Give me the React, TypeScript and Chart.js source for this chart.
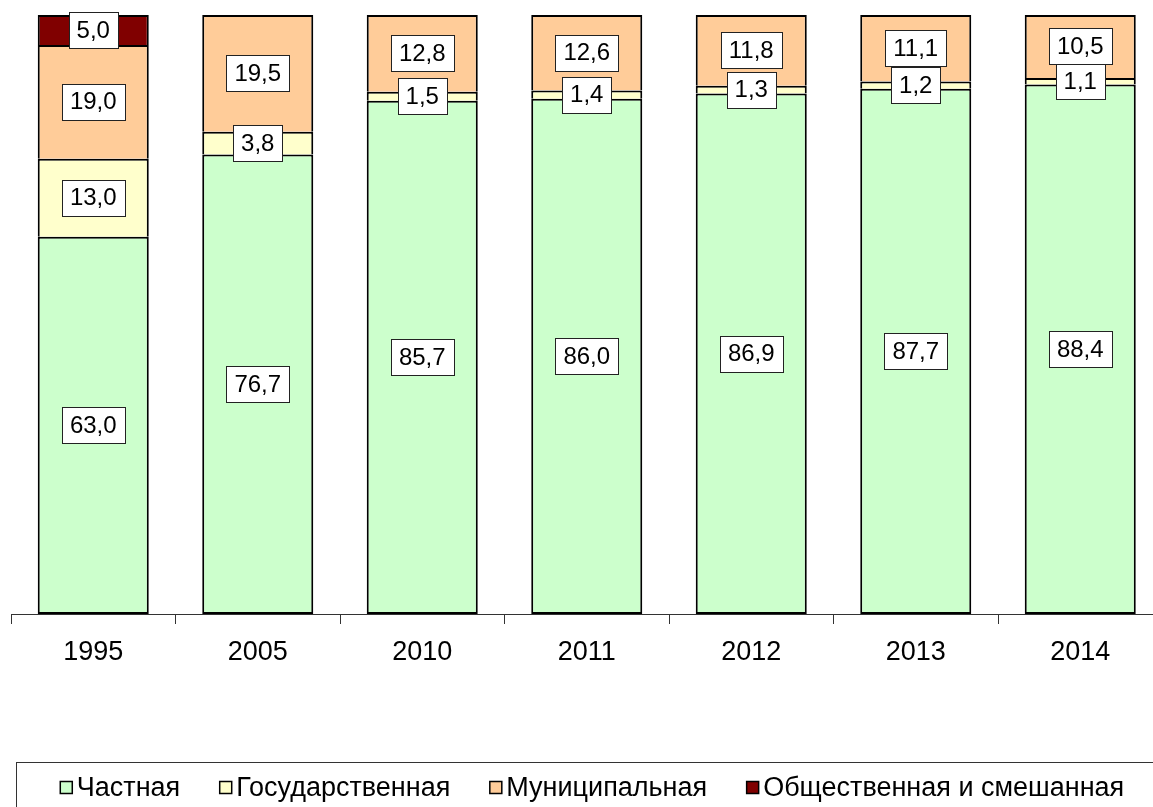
import React, { useEffect, useRef } from "react";
import { Chart, registerables } from "chart.js";

Chart.register(...registerables);

const years = ["1995", "2005", "2010", "2011", "2012", "2013", "2014"];
const privateShare = [63.0, 76.7, 85.7, 86.0, 86.9, 87.7, 88.4];
const stateShare = [13.0, 3.8, 1.5, 1.4, 1.3, 1.2, 1.1];
const municipalShare = [19.0, 19.5, 12.8, 12.6, 11.8, 11.1, 10.5];
const mixedShare: (number | null)[] = [5.0, null, null, null, null, null, null];

const seriesLabels = ["Частная", "Государственная", "Муниципальная", "Общественная и смешанная"];
const seriesColors = ["#CCFFCC", "#FFFFCC", "#FFCC99", "#800000"];

const FONT = "'Liberation Sans', Arial, sans-serif";

const valueLabels = {
  id: "valueLabels",
  afterDatasetsDraw(chart: any) {
    const ctx = chart.ctx;
    ctx.save();
    ctx.font = `24px ${FONT}`;
    ctx.textAlign = "center";
    ctx.textBaseline = "middle";
    chart.data.datasets.forEach((ds: any, di: number) => {
      const meta = chart.getDatasetMeta(di);
      meta.data.forEach((el: any, i: number) => {
        const v = ds.data[i];
        if (v === null || v === undefined) return;
        const txt = v.toFixed(1).replace(".", ",");
        const cx = el.x;
        const cy = (el.y + el.base) / 2;
        const w = ctx.measureText(txt).width + 16;
        const h = 36;
        const x0 = Math.round(cx - w / 2) + 0.5;
        const y0 = Math.round(cy - h / 2) + 0.5;
        ctx.fillStyle = "#FFFFFF";
        ctx.fillRect(x0, y0, Math.round(w), h);
        ctx.strokeStyle = "#222222";
        ctx.lineWidth = 1;
        ctx.strokeRect(x0, y0, Math.round(w), h);
        ctx.fillStyle = "#000000";
        ctx.fillText(txt, cx, cy + 1);
      });
    });
    ctx.restore();
  },
};

const boxedLegend = {
  id: "boxedLegend",
  afterDraw(chart: any) {
    const ctx = chart.ctx;
    ctx.save();
    ctx.strokeStyle = "#333333";
    ctx.lineWidth = 1;
    ctx.strokeRect(16.5, 762.5, 2000, 200);
    ctx.font = `27px ${FONT}`;
    ctx.textBaseline = "middle";
    ctx.textAlign = "left";
    const sq = 13;
    const gapText = 4;
    const gapItem = 39;
    const items = chart.data.datasets.map((ds: any) => ({
      label: ds.label,
      color: ds.backgroundColor,
      w: sq + gapText + ctx.measureText(ds.label).width,
    }));
    const total = items.reduce((s: number, it: any) => s + it.w, 0) + gapItem * (items.length - 1);
    let x = 592 - total / 2;
    const cy = 789;
    items.forEach((it: any) => {
      ctx.fillStyle = it.color;
      ctx.fillRect(x + 0.5, cy - sq / 2 - 1, sq - 1, sq - 1);
      ctx.strokeStyle = "#000000";
      ctx.lineWidth = 1.5;
      ctx.strokeRect(x + 0.5, cy - sq / 2 - 1, sq - 1, sq - 1);
      ctx.fillStyle = "#000000";
      ctx.fillText(it.label, x + sq + gapText, cy);
      x += it.w + gapItem;
    });
    ctx.restore();
  },
};

export default function App() {
  const ref = useRef<HTMLCanvasElement | null>(null);

  useEffect(() => {
    if (!ref.current) return;
    const allSeries = [privateShare, stateShare, municipalShare, mixedShare];
    const chart = new Chart(ref.current, {
      type: "bar",
      data: {
        labels: years,
        datasets: allSeries.map((d, i) => ({
          label: seriesLabels[i],
          data: d,
          backgroundColor: seriesColors[i],
          borderColor: "#000000",
          borderWidth: 2,
          borderSkipped: i === 0 ? false : "start",
          barPercentage: 0.675,
          categoryPercentage: 1,
        })),
      },
      options: {
        responsive: false,
        animation: false,
        devicePixelRatio: 1,
        layout: { padding: { left: 11, right: 12.5, top: 15, bottom: 0 } },
        plugins: {
          legend: { display: false },
          tooltip: { enabled: false },
        },
        scales: {
          x: {
            stacked: true,
            afterFit: (scale: any) => {
              scale.height = 193;
            },
            grid: {
              display: true,
              offset: true,
              drawOnChartArea: false,
              drawTicks: true,
              tickLength: 10,
              color: "#333333",
            },
            border: { display: true, color: "#333333", width: 1 },
            ticks: {
              color: "#000000",
              font: { size: 27, family: FONT },
              padding: 12,
            },
          },
          y: {
            stacked: true,
            display: false,
            min: 0,
            max: 100,
          },
        },
      },
      plugins: [valueLabels, boxedLegend],
    } as any);
    return () => chart.destroy();
  }, []);

  return (
    <div
      style={{
        position: "absolute",
        left: 0,
        top: 0,
        width: 1153,
        height: 807,
        overflow: "hidden",
        background: "#FFFFFF",
      }}
    >
      <canvas ref={ref} width={1175} height={807} style={{ width: 1175, height: 807, display: "block" }} />
    </div>
  );
}
